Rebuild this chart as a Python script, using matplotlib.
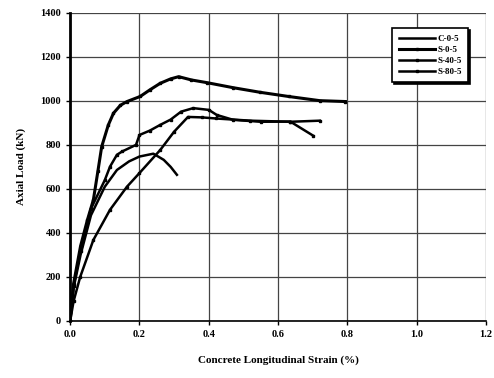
import matplotlib.pyplot as plt
import numpy as np

# strain (%) and axial load (kN)
c05_x = [0.0, 0.01, 0.03, 0.06, 0.10, 0.135, 0.17, 0.20, 0.24, 0.27, 0.29, 0.308]
c05_y = [0, 150, 300, 480, 610, 686, 725, 747, 760, 732, 700, 664]

s05_x = [0.0, 0.01, 0.03, 0.05, 0.067, 0.08, 0.091, 0.11, 0.125, 0.145, 0.164, 0.202, 0.23, 0.26,
         0.29, 0.313, 0.35, 0.394, 0.47, 0.548, 0.63, 0.72, 0.794]
s05_y = [0, 170, 340, 460, 550, 680, 792, 890, 944, 980, 997, 1020, 1050, 1080,
         1100, 1110, 1095, 1083, 1060, 1039, 1020, 1001, 997]

s405_x = [0.0, 0.01, 0.03, 0.06, 0.10, 0.115, 0.135, 0.15, 0.19, 0.20, 0.23, 0.26, 0.29, 0.32,
          0.355, 0.40, 0.423, 0.47, 0.55, 0.635, 0.702]
s405_y = [0, 160, 320, 510, 640, 701, 755, 770, 800, 845, 865, 891, 915, 951,
          967, 959, 936, 914, 905, 906, 841]

s805_x = [0.0, 0.01, 0.029, 0.067, 0.115, 0.164, 0.20, 0.26, 0.30, 0.34, 0.38, 0.42, 0.52,
          0.635, 0.72]
s805_y = [0, 90, 200, 368, 505, 610, 672, 777, 860, 927, 925, 920, 910, 905, 910]

xticks = [0.0, 0.2, 0.4, 0.6, 0.8, 1.0, 1.2]
yticks = [0, 200, 400, 600, 800, 1000, 1200, 1400]

plt.rcParams['font.family'] = ['Liberation Serif', 'DejaVu Serif']

fig = plt.figure(figsize=(4.94, 3.78), dpi=100)
ax = fig.add_axes([0.142, 0.151, 0.842, 0.815])

ax.plot(c05_x, c05_y, color='black', lw=1.8, label='C-0-5')
ax.plot(s05_x, s05_y, color='black', lw=2.2, marker='s', ms=1.8, label='S-0-5')
ax.plot(s405_x, s405_y, color='black', lw=1.8, marker='s', ms=1.8, label='S-40-5')
ax.plot(s805_x, s805_y, color='black', lw=1.8, marker='s', ms=1.8, label='S-80-5')

ax.set_xlim(0, 1.2)
ax.set_ylim(0, 1400)
ax.set_xticks(xticks)
ax.set_yticks(yticks)
ax.set_xticklabels(['%.1f' % v for v in xticks], fontsize=7.5, fontweight='bold')
ax.set_yticklabels([str(v) for v in yticks], fontsize=7.5, fontweight='bold')
ax.grid(True, color='#444444', lw=0.9)
ax.tick_params(length=3, width=1, direction='out')
for s in ['top', 'right']:
    ax.spines[s].set_visible(False)
ax.spines['left'].set_linewidth(2)
ax.spines['bottom'].set_linewidth(1.2)

ax.set_xlabel('Concrete Longitudinal Strain (%)', fontsize=8, fontweight='bold', labelpad=12)
ax.set_ylabel('Axial Load (kN)', fontsize=8, fontweight='bold', labelpad=10)

leg = ax.legend(loc='upper right', bbox_to_anchor=(0.957, 0.95),
                frameon=True, fancybox=False, shadow={'ox': 1.5, 'oy': -1.5, 'color': 'black', 'alpha': 1},
                handlelength=4.0, borderpad=0.7, labelspacing=0.3, borderaxespad=0,
                handletextpad=0.3, prop={'weight': 'bold', 'size': 6.5})
leg.get_frame().set_edgecolor('black')
leg.get_frame().set_linewidth(1.2)

fig.savefig('out.png', dpi=100)
